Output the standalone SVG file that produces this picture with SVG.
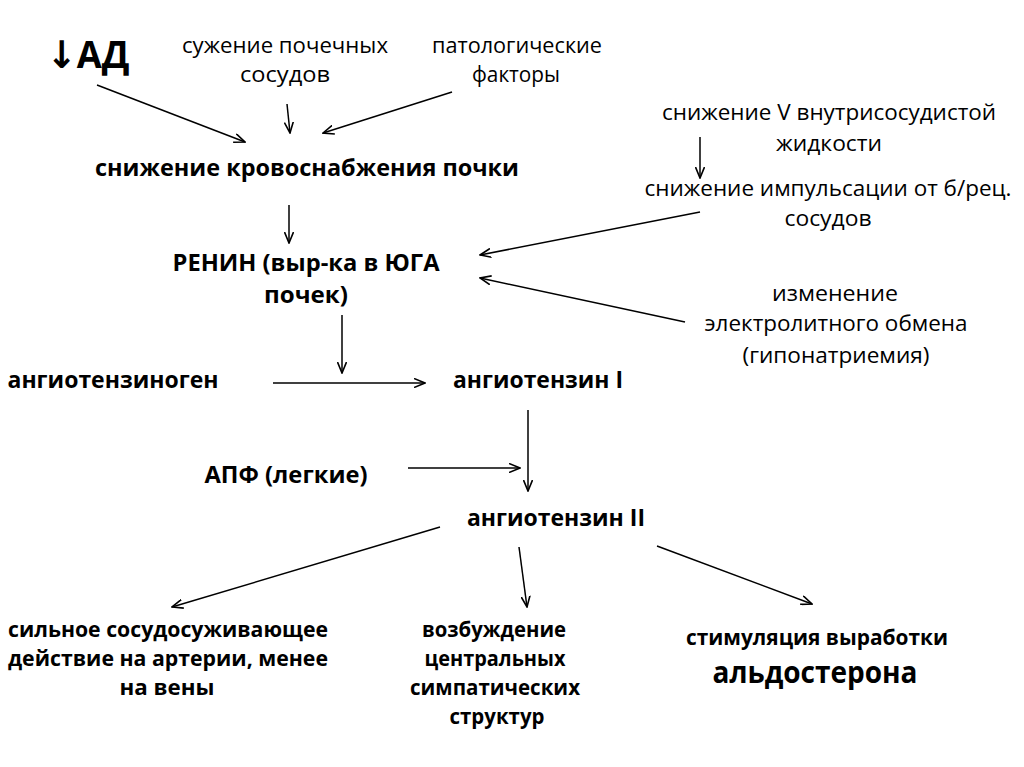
<svg xmlns="http://www.w3.org/2000/svg" width="1024" height="767" viewBox="0 0 1024 767">
<defs>
<marker id="ah" viewBox="0 0 12 10" refX="11" refY="5" markerWidth="12" markerHeight="10" markerUnits="userSpaceOnUse" orient="auto">
<path d="M0,0.5 L11,5 L0,9.5" fill="none" stroke="#000" stroke-width="1.6"/>
</marker>
<style>
text{font-family:"Open Sans","Noto Sans","DejaVu Sans",sans-serif;fill:#000;text-anchor:middle}
.r{font-size:22px}
.b{font-size:23px;font-weight:bold}
.c{font-size:22px;font-weight:bold}
.big{font-size:38px;font-weight:bold}
line{stroke:#000;stroke-width:1.5;marker-end:url(#ah)}
</style>
</defs>
<rect width="1024" height="767" fill="#fff"/>
<g id="connectors">
<line x1="97" y1="85" x2="245" y2="142"/>
<line x1="287" y1="104" x2="290" y2="133"/>
<line x1="452" y1="92" x2="323" y2="133"/>
<line x1="289" y1="205" x2="289" y2="243"/>
<line x1="700" y1="137" x2="700" y2="178"/>
<line x1="700" y1="212" x2="480" y2="255"/>
<line x1="685" y1="322" x2="480" y2="278"/>
<line x1="342" y1="315" x2="342" y2="373"/>
<line x1="273" y1="383" x2="425" y2="383"/>
<line x1="528" y1="410" x2="528" y2="491"/>
<line x1="408" y1="468" x2="520" y2="468"/>
<line x1="440" y1="527" x2="172" y2="607"/>
<line x1="519" y1="547" x2="527" y2="607"/>
<line x1="657" y1="546" x2="812" y2="604"/>
</g>
<g id="ad"><text class="big" x="88" y="68" textLength="83" lengthAdjust="spacingAndGlyphs">↓АД</text></g>
<g id="suzhenie">
<text class="r" x="285" y="53" textLength="206" lengthAdjust="spacingAndGlyphs">сужение почечных</text>
<text class="r" x="285" y="82" textLength="90" lengthAdjust="spacingAndGlyphs">сосудов</text>
</g>
<g id="patolog">
<text class="r" x="517" y="53" textLength="170" lengthAdjust="spacingAndGlyphs">патологические</text>
<text class="r" x="516" y="82" textLength="88" lengthAdjust="spacingAndGlyphs">факторы</text>
</g>
<g id="krovosnabzhenie"><text class="b" x="307" y="176" textLength="424" lengthAdjust="spacingAndGlyphs">снижение кровоснабжения почки</text></g>
<g id="snizhenieV">
<text class="r" x="829" y="120" textLength="334" lengthAdjust="spacingAndGlyphs">снижение V внутрисосудистой</text>
<text class="r" x="829" y="151" textLength="106" lengthAdjust="spacingAndGlyphs">жидкости</text>
</g>
<g id="impuls">
<text class="r" x="828" y="196" textLength="367" lengthAdjust="spacingAndGlyphs">снижение импульсации от б/рец.</text>
<text class="r" x="828" y="226" textLength="87" lengthAdjust="spacingAndGlyphs">сосудов</text>
</g>
<g id="renin">
<text class="b" x="306" y="271" textLength="267" lengthAdjust="spacingAndGlyphs">РЕНИН (выр-ка в ЮГА</text>
<text class="b" x="306" y="303" textLength="84" lengthAdjust="spacingAndGlyphs">почек)</text>
</g>
<g id="electrolit">
<text class="r" x="835" y="301" textLength="126" lengthAdjust="spacingAndGlyphs">изменение</text>
<text class="r" x="836" y="331" textLength="263" lengthAdjust="spacingAndGlyphs">электролитного обмена</text>
<text class="r" x="836" y="363" textLength="187" lengthAdjust="spacingAndGlyphs">(гипонатриемия)</text>
</g>
<g id="angiotenzinogen"><text class="b" x="113" y="388" textLength="211" lengthAdjust="spacingAndGlyphs">ангиотензиноген</text></g>
<g id="angiotenzin1"><text class="b" x="538" y="388" textLength="170" lengthAdjust="spacingAndGlyphs">ангиотензин I</text></g>
<g id="apf"><text class="b" x="286" y="483" textLength="163" lengthAdjust="spacingAndGlyphs">АПФ (легкие)</text></g>
<g id="angiotenzin2"><text class="b" x="556" y="526" textLength="178" lengthAdjust="spacingAndGlyphs">ангиотензин II</text></g>
<g id="sosudosuzh">
<text class="c" x="168" y="637" textLength="320" lengthAdjust="spacingAndGlyphs">сильное сосудосуживающее</text>
<text class="c" x="168" y="666" textLength="320" lengthAdjust="spacingAndGlyphs">действие на артерии, менее</text>
<text class="c" x="167" y="695" textLength="95" lengthAdjust="spacingAndGlyphs">на вены</text>
</g>
<g id="vozbuzhdenie">
<text class="c" x="494" y="637" textLength="144" lengthAdjust="spacingAndGlyphs">возбуждение</text>
<text class="c" x="495" y="666" textLength="141" lengthAdjust="spacingAndGlyphs">центральных</text>
<text class="c" x="495" y="695" textLength="170" lengthAdjust="spacingAndGlyphs">симпатических</text>
<text class="c" x="497" y="724" textLength="95" lengthAdjust="spacingAndGlyphs">структур</text>
</g>
<g id="aldosteron">
<text class="c" x="817" y="645" textLength="262" lengthAdjust="spacingAndGlyphs">стимуляция выработки</text>
<text class="c" x="815" y="683" style="font-size:31px" textLength="205" lengthAdjust="spacingAndGlyphs">альдостерона</text>
</g>
</svg>
